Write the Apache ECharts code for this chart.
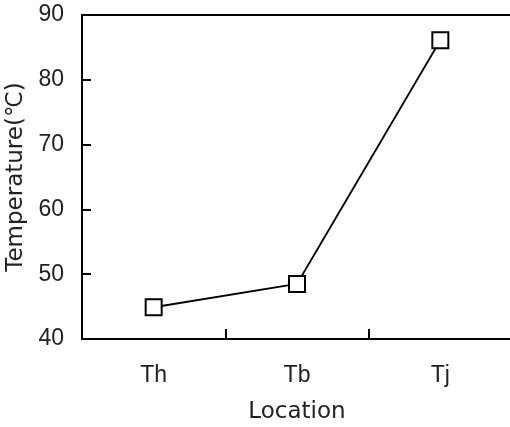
<!DOCTYPE html>
<html>
<head>
<meta charset="utf-8">
<script src="https://cdn.jsdelivr.net/npm/echarts@6/dist/echarts.min.js"></script>
<style>html,body{margin:0;padding:0;background:#fff}#c{width:510px;height:427px}</style>
</head>
<body>
<div id="c"></div>
<script>
const categories = ['Th', 'Tb', 'Tj'];
const temperature = [44.9, 48.5, 86.1];
const yTicks = [40, 50, 60, 70, 80, 90];

const chart = echarts.init(document.getElementById('c'), null, {renderer: 'canvas'});
chart.setOption({
  animation: false,
  backgroundColor: '#fff',
  grid: {left: 82, top: 15, width: 430, height: 324, containLabel: false, outerBoundsMode: 'none'},
  xAxis: [{
    type: 'category',
    data: categories,
    boundaryGap: true,
    name: 'Location',
    nameLocation: 'middle',
    nameGap: 62,
    nameTextStyle: {fontFamily: 'DejaVu Sans', fontSize: 23, color: '#222'},
    axisLine: {show: true, lineStyle: {color: '#000', width: 2}},
    axisTick: {show: true, inside: true, length: 10, alignWithLabel: false, lineStyle: {color: '#000', width: 2}},
    axisLabel: {fontFamily: 'Liberation Sans', fontSize: 23, color: '#222', margin: 25},
    splitLine: {show: false}
  }, {
    type: 'category',
    position: 'top',
    data: categories,
    axisLine: {show: true, onZero: false, lineStyle: {color: '#000', width: 2}},
    axisTick: {show: false},
    axisLabel: {show: false},
    splitLine: {show: false}
  }],
  yAxis: {
    type: 'value',
    min: yTicks[0],
    max: yTicks[yTicks.length - 1],
    interval: 10,
    name: 'Temperature(℃)',
    nameLocation: 'middle',
    nameGap: 46,
    nameTextStyle: {fontFamily: 'DejaVu Sans', fontSize: 23, color: '#222'},
    axisLine: {show: true, lineStyle: {color: '#000', width: 2}},
    axisTick: {show: true, inside: true, length: 9, lineStyle: {color: '#000', width: 2}},
    axisLabel: {fontFamily: 'Liberation Sans', fontSize: 23, color: '#222', margin: 18},
    splitLine: {show: false}
  },
  series: [{
    type: 'line',
    data: temperature,
    symbol: 'rect',
    symbolSize: 16,
    itemStyle: {color: '#fff', borderColor: '#000', borderWidth: 2},
    lineStyle: {color: '#000', width: 1.8},
    z: 5
  }]
});
</script>
</body>
</html>
